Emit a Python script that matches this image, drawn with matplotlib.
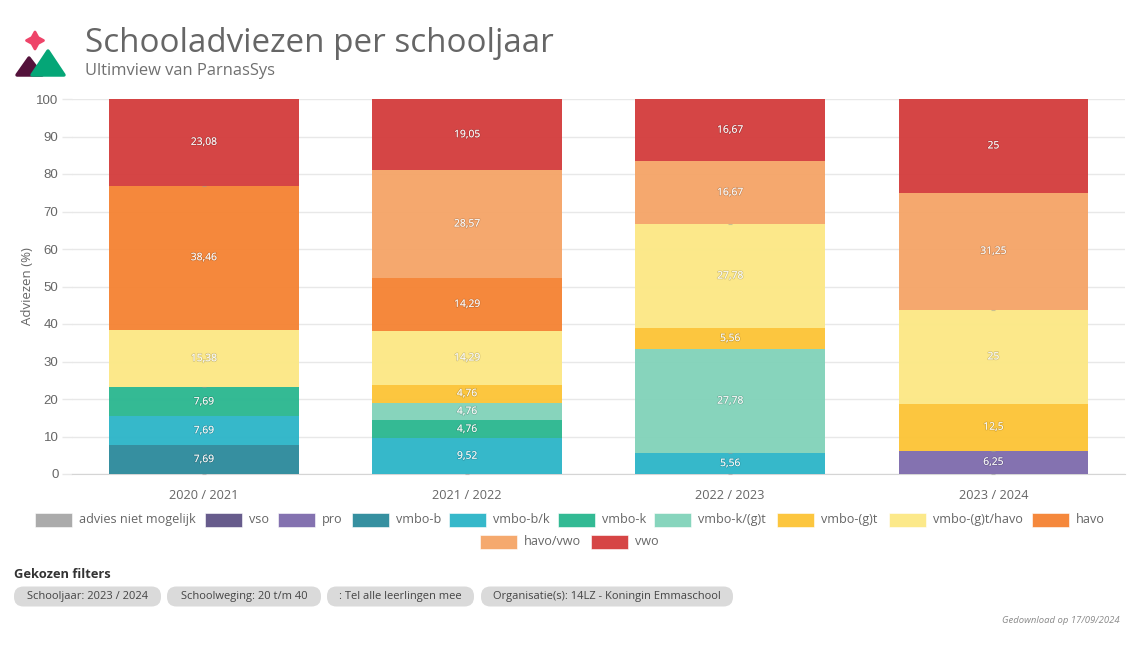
import matplotlib
matplotlib.use("Agg")
import matplotlib.pyplot as plt
import matplotlib.patheffects as pe
from matplotlib.colors import to_rgb
from matplotlib.patches import FancyBboxPatch, Polygon, Rectangle
import numpy as np

plt.rcParams["font.family"] = ["Open Sans", "DejaVu Sans"]

W, H = 1140, 646

# data
years = ["2020 / 2021", "2021 / 2022", "2022 / 2023", "2023 / 2024"]
categories = ["advies niet mogelijk", "vso", "pro", "vmbo-b", "vmbo-b/k", "vmbo-k",
              "vmbo-k/(g)t", "vmbo-(g)t", "vmbo-(g)t/havo", "havo", "havo/vwo", "vwo"]
colors = ["#ABABAB", "#675C8C", "#8472B0", "#3690A0", "#36B8CA", "#33BA94",
          "#87D5BD", "#FCC63F", "#FCE98A", "#F5883C", "#F5A96E", "#D64545"]
advies = [0, 0, 0, 0]
vso = [0, 0, 0, 0]
pro = [0, 0, 0, 6.25]
vmbo_b = [7.69, 0, 0, 0]
vmbo_bk = [7.69, 9.52, 5.56, 0]
vmbo_k = [7.69, 4.76, 0, 0]
vmbo_kgt = [0, 4.76, 27.78, 0]
vmbo_gt = [0, 4.76, 5.56, 12.5]
vmbo_gt_havo = [15.38, 14.29, 27.78, 25]
havo = [38.46, 14.29, 0, 0]
havo_vwo = [0, 28.57, 16.67, 31.25]
vwo = [23.08, 19.05, 16.67, 25]
series = [advies, vso, pro, vmbo_b, vmbo_bk, vmbo_k, vmbo_kgt, vmbo_gt,
          vmbo_gt_havo, havo, havo_vwo, vwo]

# (bar, series) pairs where a clipped zero label shows as a small dash
zero_marks = [(0, 0), (0, 6), (0, 10), (1, 0), (2, 0), (2, 5), (2, 9), (3, 0), (3, 3), (3, 7), (3, 9)]

legend_pos = [(35, 520), (205, 520), (278, 520), (352, 520), (449, 520), (558, 520),
              (654, 520), (777, 520), (889, 520), (1032, 520), (480, 542), (591, 542)]
chips = [("Schooljaar: 2023 / 2024", 14, 161), ("Schoolweging: 20 t/m 40", 167, 321),
         (": Tel alle leerlingen mee", 327, 474), ("Organisatie(s): 14LZ - Koningin Emmaschool", 481, 733)]

BAR_ALPHA = 0.96


def undo_alpha(col):
    # base colour that lands on col once drawn translucent over white
    return tuple(np.clip((np.array(to_rgb(col)) - (1 - BAR_ALPHA)) / BAR_ALPHA, 0, 1))


fig = plt.figure(figsize=(W / 100, H / 100), dpi=100, facecolor="white")

# chart
ax = fig.add_axes([72.3 / W, 1 - 474 / H, (1125 - 72.3) / W, 375 / H])
x = np.arange(len(years))
bottom = np.zeros(len(years))
for j, (vals, col) in enumerate(zip(series, colors)):
    vals = np.array(vals, dtype=float)
    ax.bar(x, vals, 0.72, bottom=bottom, color=undo_alpha(col), alpha=BAR_ALPHA, linewidth=0, zorder=3)
    for i, v in enumerate(vals):
        if v > 0:
            txt = f"{v:g}".replace(".", ",")
            ax.text(i, bottom[i] + v / 2, txt, ha="center", va="center", color="#FFFFFFE8",
                    fontsize=7.4, zorder=4,
                    path_effects=[pe.withStroke(linewidth=1.2, foreground="#00000022")])
        if (i, j) in zero_marks:
            ax.plot(i, bottom[i], marker="_", ms=3, mew=0.8, color="#99999980", zorder=4, clip_on=False)
    bottom += vals

ax.set_xlim(-0.5, 3.5)
ax.set_ylim(0, 100)
ax.set_yticks(range(0, 101, 10))
ax.set_xticks(x, years)
ax.grid(axis="y", color="#E8E8E8", linewidth=1, zorder=0)
ax.set_axisbelow(True)
for s in ["top", "right", "left"]:
    ax.spines[s].set_visible(False)
ax.spines["bottom"].set_color("#D5D5D5")
ax.tick_params(axis="x", length=0, labelsize=9.2, labelcolor="#666666", pad=11)
ax.tick_params(axis="y", length=7, width=1, color="#E8E8E8", labelsize=9.5, labelcolor="#666666", pad=3)
for lab in ax.get_yticklabels():
    lab.set_fontfamily("Liberation Sans")
ax.set_ylabel("Adviezen (%)", fontsize=9.5, color="#666666", labelpad=1.5)

# overlay in pixel coordinates for header, legend and filters
ov = fig.add_axes([0, 0, 1, 1], zorder=5)
ov.set_xlim(0, W)
ov.set_ylim(H, 0)
ov.axis("off")

# logo
ov.add_patch(Polygon([(35, 32), (38, 37.5), (43.5, 40.5), (38, 43.5), (35, 49), (32, 43.5), (26.5, 40.5), (32, 37.5)],
                     closed=True, fc="#EE4469", ec="#EE4469", lw=2, joinstyle="round"))
ov.add_patch(Polygon([(29, 58), (42, 75), (17, 75)], closed=True, fc="#54123B", ec="#54123B",
                     lw=2.5, joinstyle="round"))
ov.add_patch(Polygon([(48, 51), (64, 75), (32, 75)], closed=True, fc="#05A677", ec="#05A677",
                     lw=2.5, joinstyle="round"))

ov.text(85, 43, "Schooladviezen per schooljaar", fontsize=23.9, color="#666666", va="center")
ov.text(85, 71, "Ultimview van ParnasSys", fontsize=11.9, color="#707070", va="center")

# legend
for name, col, (lx, ly) in zip(categories, colors, legend_pos):
    ov.add_patch(Rectangle((lx, ly - 7), 37, 14, fc=col, ec="white", lw=0.4))
    ov.text(lx + 44, ly - 0.5, name, fontsize=9.1, color="#666666", va="center")

# filters
ov.text(14, 574, "Gekozen filters", fontsize=9.3, fontweight="bold", color="#333333", va="center")
for label, x0, x1 in chips:
    ov.add_patch(FancyBboxPatch((x0 + 9.5, 596), x1 - x0 - 19, 1, boxstyle="round,pad=9.5,rounding_size=9.5",
                                fc="#DADADA", ec="none"))
    ov.text((x0 + x1) / 2, 596.5, label, fontsize=8.05, color="#444444", ha="center", va="center")

ov.text(1120, 620.5, "Gedownload op 17/09/2024", fontsize=6.8, style="italic", color="#8A8A8A",
        ha="right", va="center")

fig.savefig("out.png", dpi=100)
